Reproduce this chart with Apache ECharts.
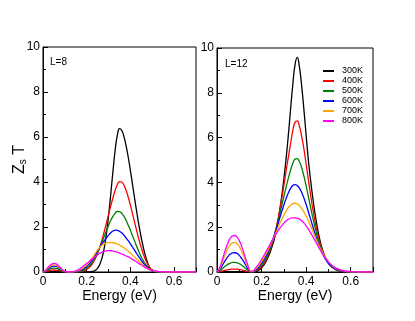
<!DOCTYPE html>
<html><head><meta charset="utf-8">
<script src="https://cdn.jsdelivr.net/npm/echarts@6/dist/echarts.min.js"></script>
<style>html,body{margin:0;padding:0;background:#fff}#c{width:415px;height:321px}</style>
</head><body><div id="c"></div>
<script>
// ---- data ----
const energy = [0,0.01,0.02,0.03,0.04,0.05,0.06,0.07,0.08,0.09,0.10,0.11,0.12,0.13,0.14,0.15,0.16,0.17,0.18,0.19,
0.20,0.21,0.22,0.23,0.24,0.25,0.26,0.27,0.28,0.29,0.30,0.31,0.32,0.33,0.34,0.35,0.36,0.37,0.38,0.39,
0.40,0.41,0.42,0.43,0.44,0.45,0.46,0.47,0.48,0.49,0.50,0.51,0.52,0.53,0.54,0.55,0.56,0.57,0.58,0.59,
0.60,0.61,0.62,0.63,0.64,0.65,0.66,0.67,0.68,0.69,0.70];
const temps = ['300K','400K','500K','600K','700K','800K'];
const panelLabels = ['L=8','L=12'];
const xTickLabels = ['0','0.2','0.4','0.6'];

// L=8 panel
const L8_300K = [0,0.004,0.011,0.018,0.023,0.025,0.024,0.019,0.013,0.006,0.002,0,0,
0,0,0,0,0,0,0,
0.003,0.007,0.015,0.035,0.08,0.17,0.34,0.62,1.06,1.69,2.50,3.46,4.47,5.40,6.07,6.37,6.30,6.03,5.62,5.10,
4.50,3.86,3.22,2.60,2.02,1.50,1.05,0.67,0.37,0.17,0.06,0.015,0,
0,0,0,0,0,0,0,0,0,0,0,0,0,0,0,0,0,0];
const L8_400K = [0,0.014,0.04,0.067,0.084,0.09,0.086,0.07,0.046,0.022,0.007,0.001,0,
0,0.002,0.005,0.01,0.02,0.04,0.07,
0.12,0.19,0.29,0.43,0.61,0.84,1.11,1.43,1.79,2.17,2.56,2.94,3.30,3.62,3.88,4.02,4.00,3.87,3.63,3.32,
2.96,2.57,2.17,1.78,1.41,1.07,0.77,0.52,0.32,0.17,0.08,0.03,0.01,
0,0,0,0,0,0,0,0,0,0,0,0,0,0,0,0,0,0];
const L8_500K = [0,0.027,0.077,0.126,0.158,0.17,0.162,0.13,0.086,0.04,0.014,0.002,0,
0.002,0.005,0.01,0.02,0.04,0.07,0.11,
0.17,0.25,0.36,0.50,0.67,0.87,1.09,1.33,1.58,1.83,2.07,2.29,2.47,2.61,2.69,2.68,2.61,2.48,2.30,2.08,
1.85,1.60,1.35,1.10,0.87,0.66,0.48,0.33,0.21,0.12,0.06,0.03,0.01,
0,0,0,0,0,0,0,0,0,0,0,0,0,0,0,0,0,0];
const L8_600K = [0,0.04,0.115,0.19,0.24,0.26,0.245,0.2,0.13,0.06,0.02,0.003,0,
0.002,0.008,0.02,0.04,0.07,0.11,0.17,
0.25,0.34,0.46,0.60,0.77,0.95,1.10,1.25,1.39,1.52,1.64,1.74,1.82,1.86,1.85,1.81,1.74,1.64,1.52,1.39,
1.25,1.10,0.95,0.80,0.65,0.51,0.38,0.27,0.18,0.11,0.065,0.035,0.02,
0.01,0.005,0,0,0,0,0,0,0,0,0,0,0,0,0,0,0,0];
const L8_700K = [0,0.05,0.14,0.235,0.29,0.32,0.30,0.24,0.16,0.075,0.025,0.004,0,
0.003,0.012,0.03,0.06,0.10,0.16,0.23,
0.32,0.43,0.55,0.69,0.84,0.98,1.10,1.19,1.25,1.29,1.31,1.31,1.30,1.28,1.25,1.20,1.14,1.08,1.00,0.92,
0.84,0.75,0.66,0.56,0.47,0.38,0.29,0.21,0.15,0.10,0.065,0.04,0.025,
0.015,0.008,0.004,0,0,0,0,0,0,0,0,0,0,0,0,0,0,0];
const L8_800K = [0,0.06,0.17,0.28,0.35,0.38,0.36,0.29,0.19,0.09,0.03,0.005,0,
0.005,0.02,0.05,0.09,0.15,0.22,0.30,
0.38,0.46,0.54,0.62,0.70,0.77,0.83,0.88,0.92,0.94,0.95,0.945,0.93,0.91,0.88,0.84,0.80,0.76,0.71,0.67,
0.62,0.56,0.50,0.44,0.37,0.31,0.25,0.19,0.14,0.10,0.07,0.05,0.035,
0.025,0.015,0.01,0.005,0,0,0,0,0,0,0,0,0,0,0,0,0,0];

// L=12 panel
const L12_300K = [0,0.002,0.005,0.009,0.013,0.016,0.018,0.02,0.02,0.019,0.017,0.014,0.01,0.007,0.003,0,
0,0.01,0.04,0.10,0.19,0.31,0.47,0.68,0.93,1.22,1.58,2.05,2.65,3.35,4.15,5.05,6.10,7.25,8.35,9.25,9.58,9.15,8.30,7.25,
6.10,5.00,4.10,3.30,2.60,2.00,1.50,1.10,0.80,0.57,0.40,0.28,0.19,0.12,0.07,0.04,0.02,0.01,0,
0,0,0,0,0,0,0,0,0,0,0,0];
const L12_400K = [0,0.012,0.034,0.06,0.085,0.105,0.12,0.13,0.13,0.125,0.11,0.093,0.07,0.044,0.02,0.004,
0.005,0.03,0.08,0.15,0.25,0.38,0.55,0.77,1.03,1.35,1.73,2.18,2.69,3.25,3.85,4.50,5.12,5.72,6.30,6.68,6.75,6.50,6.05,5.50,
4.82,4.12,3.44,2.81,2.25,1.77,1.37,1.04,0.78,0.57,0.41,0.29,0.20,0.13,0.08,0.05,0.03,0.015,0.005,0,
0,0,0,0,0,0,0,0,0,0,0];
const L12_500K = [0,0.04,0.11,0.20,0.28,0.35,0.40,0.43,0.43,0.41,0.37,0.31,0.23,0.15,0.07,0.01,
0.01,0.05,0.11,0.20,0.31,0.45,0.62,0.83,1.08,1.38,1.72,2.10,2.51,2.94,3.37,3.79,4.18,4.54,4.84,5.04,5.06,4.92,4.65,4.28,
3.84,3.36,2.88,2.42,1.99,1.60,1.26,0.97,0.73,0.54,0.39,0.28,0.20,0.14,0.09,0.06,0.04,0.02,0.01,0.005,0,
0,0,0,0,0,0,0,0,0,0];
const L12_600K = [0,0.08,0.22,0.40,0.56,0.70,0.80,0.85,0.86,0.83,0.74,0.61,0.46,0.29,0.13,0.02,
0.02,0.07,0.15,0.26,0.39,0.54,0.72,0.93,1.17,1.44,1.73,2.04,2.36,2.68,2.99,3.28,3.53,3.73,3.86,3.90,3.86,3.74,3.55,3.30,
3.01,2.69,2.36,2.03,1.71,1.41,1.14,0.90,0.70,0.53,0.40,0.30,0.22,0.16,0.11,0.08,0.05,0.03,0.02,0.01,0.005,
0,0,0,0,0,0,0,0,0,0];
const L12_700K = [0,0.12,0.34,0.61,0.86,1.07,1.22,1.30,1.32,1.26,1.13,0.94,0.70,0.45,0.21,0.03,
0.03,0.10,0.20,0.32,0.47,0.63,0.81,1.00,1.21,1.43,1.66,1.89,2.12,2.34,2.54,2.72,2.87,2.98,3.05,3.07,3.04,2.96,2.84,2.68,
2.49,2.28,2.05,1.82,1.58,1.35,1.13,0.93,0.75,0.59,0.46,0.35,0.26,0.19,0.14,0.10,0.07,0.05,0.03,0.02,0.012,0.007,0.003,0,
0,0,0,0,0,0,0];
const L12_800K = [0,0.15,0.42,0.75,1.06,1.32,1.51,1.61,1.63,1.56,1.40,1.16,0.86,0.55,0.26,0.04,
0.04,0.14,0.26,0.40,0.56,0.73,0.91,1.09,1.27,1.45,1.62,1.78,1.93,2.06,2.18,2.28,2.35,2.40,2.42,2.42,2.40,2.36,2.29,2.19,
2.06,1.91,1.75,1.58,1.40,1.22,1.04,0.87,0.71,0.57,0.45,0.35,0.27,0.20,0.15,0.11,0.08,0.06,0.04,0.03,0.02,0.013,0.008,0.004,0.002,0,
0,0,0,0,0];

const panels = [
  [L8_300K, L8_400K, L8_500K, L8_600K, L8_700K, L8_800K],
  [L12_300K, L12_400K, L12_500K, L12_600K, L12_700K, L12_800K]
];
const colors = ['#000000','#ff0000','#008000','#0000ff','#ffa500','#ff00ff'];

// ---- chart ----
const FONT = '"Liberation Sans", Arial, Helvetica, sans-serif';
const chart = echarts.init(document.getElementById('c'), null, {renderer:'canvas'});

function xAxis(i){
  return {
    gridIndex:i, type:'value', min:0, max:0.7, interval:0.2,
    axisLine:{show:true, onZero:false, lineStyle:{color:'#000', width:1}},
    axisTick:{show:true, inside:true, length:5, lineStyle:{color:'#000'}},
    minorTick:{show:true, splitNumber:2, length:3, lineStyle:{color:'#000'}},
    splitLine:{show:false}, minorSplitLine:{show:false},
    axisLabel:{color:'#000', fontSize:12, fontFamily:FONT, margin:4, showMaxLabel:false,
      formatter:(v)=>{ const idx = Math.round(v/0.2); return xTickLabels[idx] !== undefined ? xTickLabels[idx] : ''; }},
    name:'Energy (eV)', nameLocation:'middle', nameGap:17, nameMoveOverlap:false,
    nameTextStyle:{color:'#000', fontSize:14, fontFamily:FONT}
  };
}
function yAxis(i){
  const a = {
    gridIndex:i, type:'value', min:0, max:10, interval:2,
    axisLine:{show:true, onZero:false, lineStyle:{color:'#000', width:1}},
    axisTick:{show:true, inside:true, length:5, lineStyle:{color:'#000'}},
    minorTick:{show:true, splitNumber:2, length:3, lineStyle:{color:'#000'}},
    splitLine:{show:false}, minorSplitLine:{show:false},
    axisLabel:{color:'#000', fontSize:12, fontFamily:FONT, margin:3}
  };
  if(i===0){
    a.name = '{z|Z}{s|s}{z| T}';
    a.nameLocation = 'middle';
    a.nameGap = 15;
    a.nameMoveOverlap = false;
    a.nameTextStyle = {color:'#000', fontFamily:FONT,
      rich:{ z:{fontSize:16, fontFamily:FONT, color:'#000'},
             s:{fontSize:10, fontFamily:FONT, color:'#000', padding:[7,0,0,0]} }};
  }
  return a;
}

const series = [];
panels.forEach((arrs, p) => {
  arrs.forEach((vals, k) => {
    series.push({
      name: temps[k], type:'line', xAxisIndex:p, yAxisIndex:p,
      data: energy.map((e,j)=>[e, vals[j]]),
      showSymbol:false, symbol:'none', smooth:true,
      lineStyle:{color:colors[k], width:1.3},
      itemStyle:{color:colors[k]},
      z: 2 + k
    });
  });
});

chart.setOption({
  animation:false,
  backgroundColor:'#ffffff',
  textStyle:{fontFamily:FONT},
  grid:[
    {left:43, top:47, width:153, height:225, show:true, borderColor:'#000', borderWidth:1, backgroundColor:'transparent', containLabel:false},
    {left:217, top:48, width:156, height:224, show:true, borderColor:'#000', borderWidth:1, backgroundColor:'transparent', containLabel:false}
  ],
  xAxis:[xAxis(0), xAxis(1)],
  yAxis:[yAxis(0), yAxis(1)],
  title:[
    {text:panelLabels[0], left:50, top:57, padding:0, textStyle:{fontSize:10, fontWeight:'normal', color:'#000', fontFamily:FONT}},
    {text:panelLabels[1], left:225, top:59, padding:0, textStyle:{fontSize:10, fontWeight:'normal', color:'#000', fontFamily:FONT}}
  ],
  legend:{
    orient:'vertical', left:323, top:66, padding:0,
    itemWidth:11, itemHeight:2, itemGap:0, icon:'rect',
    selectedMode:false,
    textStyle:{fontSize:9, lineHeight:10, color:'#000', fontFamily:FONT, padding:[0,0,0,3]},
    data: temps
  },
  series
});
</script></body></html>
